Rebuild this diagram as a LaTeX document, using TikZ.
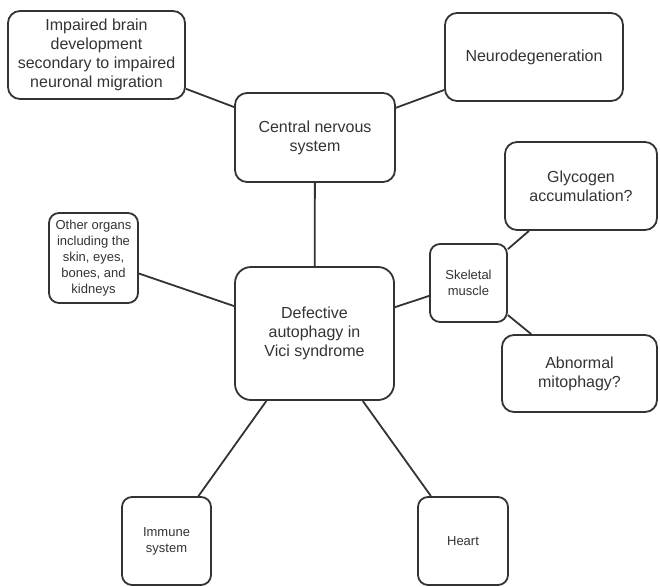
\documentclass[tikz,border=0pt]{standalone}
\usepackage{fontspec}
\setmainfont{Liberation Sans}
\definecolor{ink}{HTML}{333333}
\tikzstyle{box} = [rectangle, draw=ink, text=ink, line width=1.8pt, rounded corners=12pt, align=center, inner sep=0pt, font=\fontsize{16}{19}\selectfont]
\tikzstyle{smallbox} = [box, rounded corners=10pt, font=\fontsize{13}{16}\selectfont]
\tikzstyle{link} = [draw=ink, line width=1.8pt]

\begin{document}
\begin{tikzpicture}[x=1pt, y=-1pt]
        \useasboundingbox (0,0) rectangle (660,586);

        \node at (96.5,55) [box, minimum width=177pt, minimum height=88pt] (brain) {Impaired brain\\development\\secondary to impaired\\neuronal migration};
        \node at (315,137.5) [box, minimum width=160pt, minimum height=89pt] (CNS) {Central nervous\\system};
        \node at (534,57) [box, minimum width=178pt, minimum height=88pt] (neuro) {Neurodegeneration};
        \node at (581,186) [box, minimum width=152pt, minimum height=88pt] (glyco) {Glycogen\\accumulation?};
        \node at (93.5,258) [smallbox, minimum width=89pt, minimum height=90pt] (organs) {Other organs\\including the\\skin, eyes,\\bones, and\\kidneys};
        \node at (314.5,333.5) [box, minimum width=159pt, minimum height=133pt, rounded corners=16pt] (vici) {Defective\\autophagy in\\Vici syndrome};
        \node at (468.5,283) [smallbox, minimum width=77pt, minimum height=78pt] (muscle) {Skeletal\\muscle};
        \node at (579.5,373.5) [box, minimum width=155pt, minimum height=77pt] (mito) {Abnormal\\mitophagy?};
        \node at (166.5,541) [smallbox, minimum width=89pt, minimum height=88pt] (immune) {Immune\\system};
        \node at (463,541) [smallbox, minimum width=90pt, minimum height=88pt] (heart) {Heart};

        \draw [link] (brain) -- (CNS);
        \draw [link] (CNS) -- (neuro);
        \draw [link] (CNS) -- (vici);
        \draw [link] (organs) -- (vici);
        \draw [link] (vici) -- (muscle);
        \draw [link] (muscle) -- (glyco);
        \draw [link] (muscle) -- (mito);
        \draw [link] (vici) -- (immune);
        \draw [link] (vici) -- (heart);

\end{tikzpicture}
\end{document}
